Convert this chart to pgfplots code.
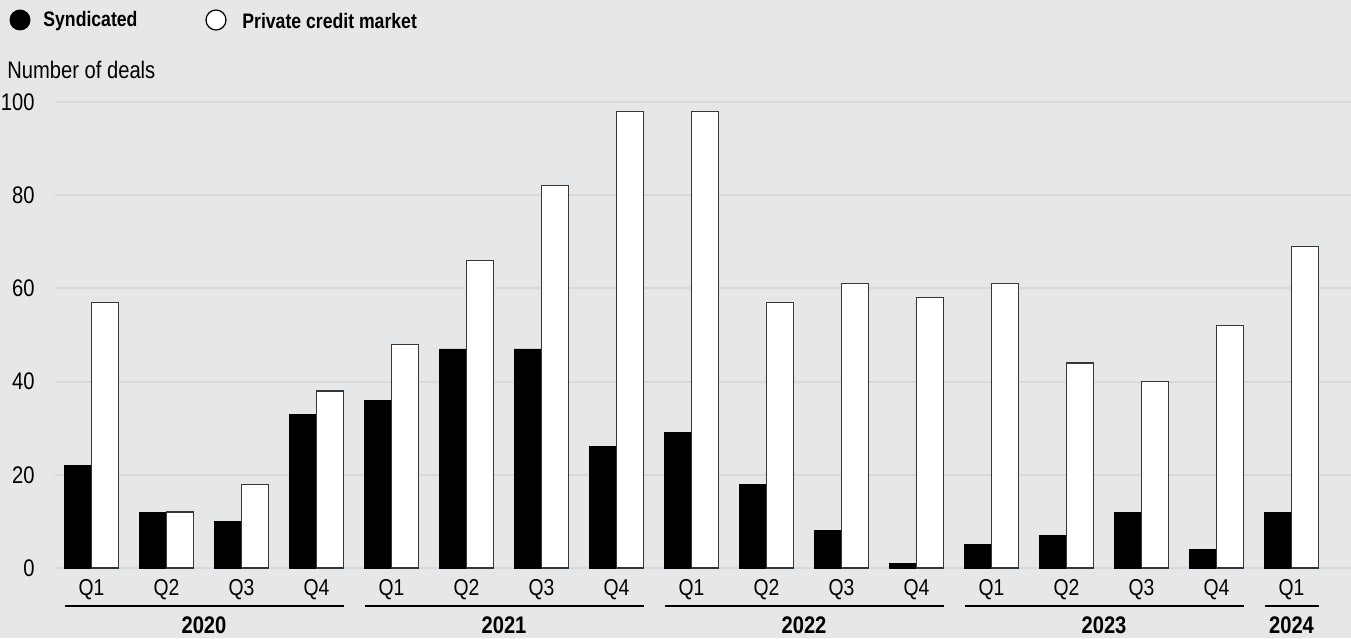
\documentclass[border=0pt]{standalone}
\usepackage{fontspec}
\setmainfont{Liberation Sans}[FakeStretch=0.84]
\usepackage{pgfplots}
\usepackage{pgfplotstable}
\pgfplotsset{compat=1.18}

\definecolor{bg}{RGB}{230,231,233}
\definecolor{gridc}{RGB}{216,217,219}
\definecolor{edge}{RGB}{55,55,55}

% quarters 2020Q1 .. 2024Q1
\pgfplotstableread{
idx synd priv
0   22   57
1   12   12
2   10   18
3   33   38
4   36   48
5   47   66
6   47   82
7   26   98
8   29   98
9   18   57
10  8    61
11  1    58
12  5    61
13  7    44
14  12   40
15  4    52
16  12   69
}\deals

\begin{document}
\begin{tikzpicture}[x=0.5pt,y=0.5pt]
\fill[bg] (0,0) rectangle (1351,638);
\useasboundingbox (0,0) rectangle (1351,638);

% legend
\fill[black] (20,618) circle (10.5);
\node[anchor=west, inner sep=0pt, font=\bfseries\fontsize{10.5}{12}\selectfont] at (43,617) {Syndicated};
\filldraw[fill=white, draw=black, line width=0.6pt] (216,618) circle (10);
\node[anchor=west, inner sep=0pt, font=\bfseries\fontsize{10.5}{12}\selectfont] at (242,617) {Private credit market};
\node[anchor=west, inner sep=0pt, font=\fontsize{12}{14}\selectfont] at (7,568) {Number of deals};

\begin{axis}[
    at={(27.5pt,35pt)}, anchor=south west,
    scale only axis, width=648pt, height=233pt,
    xmin=-0.4867, xmax=16.793, ymin=0, ymax=100,
    ybar, bar width=13.5pt,
    axis line style={draw=none}, tick style={draw=none},
    ytick={0,20,...,100},
    ymajorgrids, grid style={gridc, line width=1pt},
    xtick={0,...,16},
    xticklabels={Q1,Q2,Q3,Q4,Q1,Q2,Q3,Q4,Q1,Q2,Q3,Q4,Q1,Q2,Q3,Q4,Q1},
    /pgf/number format/assume math mode=true,
    yticklabel style={anchor=east, inner sep=0pt, xshift=-10pt, font=\fontsize{12}{14}\selectfont},
    xticklabel style={anchor=north, inner sep=0pt, yshift=-1.5pt, font=\fontsize{11.5}{14}\selectfont},
    clip=false,
]
\addplot[fill=black, draw=black, bar shift=-6.75pt] table[x=idx, y=synd] {\deals};
\addplot[fill=white, draw=edge, line width=0.6pt, bar shift=6.75pt] table[x=idx, y=priv] {\deals};

% year brackets
\foreach \a/\b/\yr in {0/3/2020, 4/7/2021, 8/11/2022, 12/15/2023, 16/16/2024} {
  \edef\tmp{\noexpand\draw[black, line width=1pt] ([yshift=-19pt]axis cs:\a-0.36,0) -- ([yshift=-19pt]axis cs:\b+0.36,0);
  \noexpand\node[inner sep=0pt, font=\noexpand\bfseries\noexpand\fontsize{12}{14}\noexpand\selectfont] at ([yshift=-28.5pt]axis cs:{(\a+\b)/2},0) {\yr};}
  \tmp
}
\end{axis}
\end{tikzpicture}
\end{document}
